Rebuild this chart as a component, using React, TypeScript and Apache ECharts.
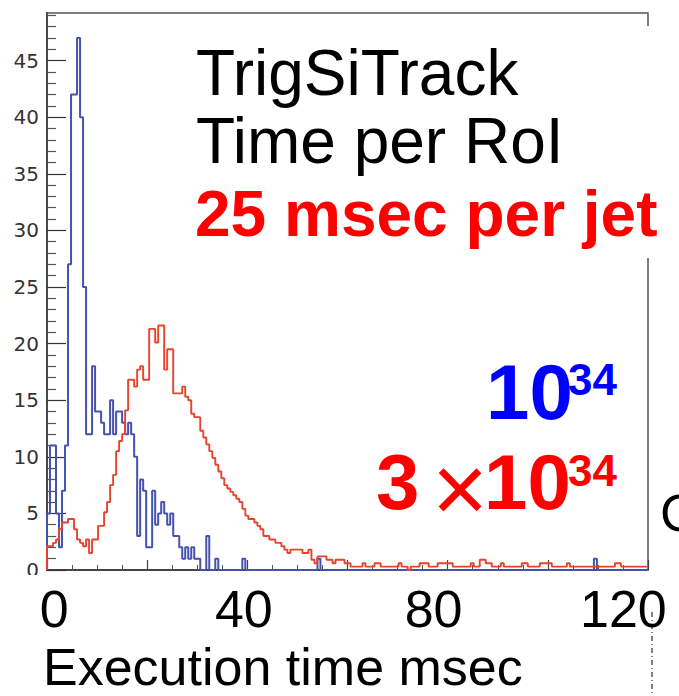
import React, { useEffect, useRef } from "react";
import * as echarts from "echarts";

// Histogram bin width in msec (200 bins over 0..120 ms)
const BIN_WIDTH_MS = 0.6;

// Luminosity 10^34 (blue) – entries per bin
const blueCounts: number[] = [
  5, 11, 11, 5, 2, 7, 11, 27, 42, 42,
  47, 40, 25, 12, 12, 18, 14, 14, 13, 12,
  12, 15, 12, 14, 14, 13, 12, 13, 12, 10,
  3, 8, 7, 2, 2, 7, 4, 5, 6, 5,
  4, 5, 3, 3, 2, 1, 2, 1, 2, 1,
  1, 0, 0, 3, 0, 0, 1, 0, 0, 0,
  0, 0, 0, 0, 0, 1, 0, 0, 0, 0,
  0, 0, 0, 0, 0, 0, 0, 0, 0, 0,
  0, 0, 0, 0, 0, 0, 0, 0, 0, 0,
  1, 0, 0, 0, 0, 0, 0, 0, 0, 0,
  0, 0, 0, 0, 0, 0, 0, 0, 0, 0,
  0, 0, 0, 0, 0, 0, 0, 0, 0, 0,
  0, 0, 0, 0, 0, 0, 0, 0, 0, 0,
  0, 0, 0, 0, 0, 0, 0, 0, 0, 0,
  0, 0, 0, 0, 0, 0, 0, 0, 0, 0,
  0, 0, 0, 0, 0, 0, 0, 0, 0, 0,
  0, 0, 0, 0, 0, 0, 0, 0, 0, 0,
  0, 0, 0, 0, 0, 0, 0, 0, 0, 0,
  0, 0, 1, 0, 0, 0, 0, 0, 0, 0,
  0, 0, 0, 0, 0, 0, 0, 0, 0, 0,
];

// Luminosity 3x10^34 (red) – scaled entries per bin
const redCounts: number[] = [
  2.1, 2.1, 2.4, 2.7, 3.6, 4.2, 4.2, 4.5, 4.5, 3.6,
  2.7, 2.4, 2.1, 2.7, 1.5, 2.7, 2.7, 3.9, 3.9, 5.1,
  6.0, 7.5, 8.4, 10.5, 11.4, 12.0, 14.1, 16.8, 16.8, 16.2,
  17.7, 18.0, 16.8, 16.8, 21.3, 21.3, 20.1, 21.6, 21.6, 17.7,
  19.5, 19.5, 15.6, 15.6, 15.6, 16.2, 15.3, 15.0, 13.8, 13.5,
  13.5, 12.3, 11.7, 11.1, 10.5, 9.9, 9.3, 8.7, 8.1, 7.5,
  7.2, 6.9, 6.6, 6.3, 6.0, 5.4, 4.8, 4.5, 4.5, 4.2,
  3.9, 3.6, 3.0, 3.0, 2.7, 2.7, 2.4, 2.4, 2.1, 1.8,
  1.5, 1.8, 1.8, 1.8, 1.8, 1.5, 1.5, 1.8, 0.9, 0.6,
  1.2, 1.2, 1.2, 0.9, 0.9, 0.6, 0.9, 0.9, 0.9, 0.6,
  0.6, 0.3, 0.3, 0.3, 0.3, 0.6, 0.3, 0.3, 0.3, 0.6,
  0.6, 0.3, 0.3, 0.3, 0.3, 0.3, 0.3, 0.6, 0.3, 0.3,
  0, 0.3, 0.3, 0.3, 0.6, 0.6, 0.6, 0.3, 0.3, 0.3,
  0.6, 0.6, 0.6, 0.6, 0.6, 0.3, 0.3, 0.3, 0.3, 0.3,
  0.3, 0.6, 0.3, 0.3, 0.9, 0.9, 0.6, 0.6, 0.3, 0.3,
  0.3, 0.6, 0.3, 0.3, 0.3, 0.3, 0.3, 0.3, 0.6, 0.6,
  0.3, 0.3, 0.3, 0.3, 0.6, 0.6, 0.6, 0.6, 0.3, 0.3,
  0.3, 0.3, 0.3, 0.6, 0.3, 0.3, 0.3, 0.3, 0.3, 0.3,
  0.3, 0.3, 0.3, 0.3, 0.3, 0.3, 0.3, 0.3, 0.3, 0.6,
  0.6, 0.3, 0.3, 0.3, 0.3, 0.3, 0.3, 0.3, 0.3, 0.3,
];

const yTickValues = [0, 5, 10, 15, 20, 25, 30, 35, 40, 45];
const xTickLabels = [0, 40, 80, 120];

const titleLines = ["TrigSiTrack", "Time per RoI"];
const subtitle = "25 msec per jet";
const xAxisTitle = "Execution time msec";

function toSteps(values: number[]): [number, number][] {
  const pts: [number, number][] = [[0, 0]];
  values.forEach((v, i) => pts.push([i * BIN_WIDTH_MS, v]));
  pts.push([values.length * BIN_WIDTH_MS, values[values.length - 1]]);
  return pts;
}

const SANS = "Liberation Sans";

export default function App() {
  const ref = useRef<HTMLDivElement>(null);

  useEffect(() => {
    if (!ref.current) return;
    const chart = echarts.init(ref.current, undefined, { renderer: "svg" });

    const txt = (
      text: string,
      x: number,
      y: number,
      size: number,
      color: string,
      weight: string = "normal",
      align: string = "left"
    ) => ({
      type: "text",
      x,
      y,
      z: 60,
      style: {
        text,
        fill: color,
        fontSize: size,
        fontWeight: weight,
        fontFamily: SANS,
        align,
        verticalAlign: "middle",
      },
    });

    const option: any = {
      animation: false,
      backgroundColor: "#ffffff",
      grid: {
        left: 47,
        right: 31,
        top: 13,
        bottom: 126,
        show: true,
        borderColor: "#555",
        borderWidth: 1.5,
        backgroundColor: "transparent",
      },
      xAxis: [
        {
          type: "value",
          min: 0,
          max: 120,
          interval: 20,
          position: "bottom",
          axisLine: { show: true, onZero: false, lineStyle: { color: "#333", width: 1.5 } },
          axisTick: { show: true, inside: true, length: 10, lineStyle: { color: "#444", width: 1.2 } },
          minorTick: { show: true, splitNumber: 4, length: 5, lineStyle: { color: "#555", width: 1 } },
          axisLabel: { show: false },
          splitLine: { show: false },
        },
        {
          type: "value",
          min: -1.5,
          max: 125.2,
          position: "bottom",
          axisLine: { show: false },
          axisTick: { show: false },
          splitLine: { show: false },
          axisLabel: {
            show: true,
            customValues: xTickLabels,
            margin: 13,
            fontSize: 52,
            lineHeight: 52,
            fontFamily: SANS,
            color: "#000",
          },
        },
      ],
      yAxis: {
        type: "value",
        min: 0,
        max: 49.2,
        interval: 5,
        axisLine: { show: true, onZero: false, lineStyle: { color: "#444", width: 1.8 } },
        axisTick: {
          show: true,
          inside: true,
          length: 19,
          customValues: yTickValues,
          lineStyle: { color: "#333", width: 1.2 },
        },
        minorTick: { show: true, splitNumber: 5, length: 9, lineStyle: { color: "#555", width: 1.2 } },
        axisLabel: {
          customValues: yTickValues,
          fontFamily: "DejaVu Sans",
          fontSize: 20,
          color: "#333",
          margin: 8,
        },
        splitLine: { show: false },
      },
      series: [
        {
          type: "line",
          name: "10^34",
          xAxisIndex: 0,
          yAxisIndex: 0,
          step: "end",
          symbol: "none",
          data: toSteps(blueCounts),
          lineStyle: { color: "#4553ad", width: 2 },
          z: 3,
        },
        {
          type: "line",
          name: "3x10^34",
          xAxisIndex: 0,
          yAxisIndex: 0,
          step: "end",
          symbol: "none",
          data: toSteps(redCounts),
          lineStyle: { color: "#e8432b", width: 1.9 },
          z: 4,
        },
      ],
      graphic: [
        // slide text box covering part of the frame
        { type: "rect", z: 50, shape: { x: 638, y: 26, width: 20, height: 232 }, style: { fill: "#fff" } },
        // area below the frame
        { type: "rect", z: 50, shape: { x: 0, y: 575, width: 44, height: 22 }, style: { fill: "#fff" } },
        txt(titleLines[0], 196, 73, 64, "#000"),
        txt(titleLines[1], 196, 141, 64, "#000"),
        txt(subtitle, 195, 214, 64, "#ff0000", "bold"),
        txt("10", 486, 392, 78, "#0000ff", "bold"),
        txt("34", 568, 379, 44, "#0000ff", "bold"),
        txt("3", 376, 482, 78, "#ff0000", "bold"),
        txt("\u00d7", 460, 488, 96, "#ff0000", "normal", "center"),
        txt("10", 484, 482, 78, "#ff0000", "bold"),
        txt("34", 568, 470, 44, "#ff0000", "bold"),
        txt(xAxisTitle, 43, 667, 52, "#000"),
        txt("C", 660, 513, 52, "#000"),
        {
          type: "line",
          z: 60,
          shape: { x1: 652, y1: 612, x2: 652, y2: 696 },
          style: { stroke: "#000", lineWidth: 1, lineDash: [5, 3, 1, 3] },
        },
      ],
    };

    chart.setOption(option);
    return () => chart.dispose();
  }, []);

  return (
    <div
      ref={ref}
      style={{ position: "fixed", left: 0, top: 0, width: 679, height: 696, background: "#fff" }}
    />
  );
}
